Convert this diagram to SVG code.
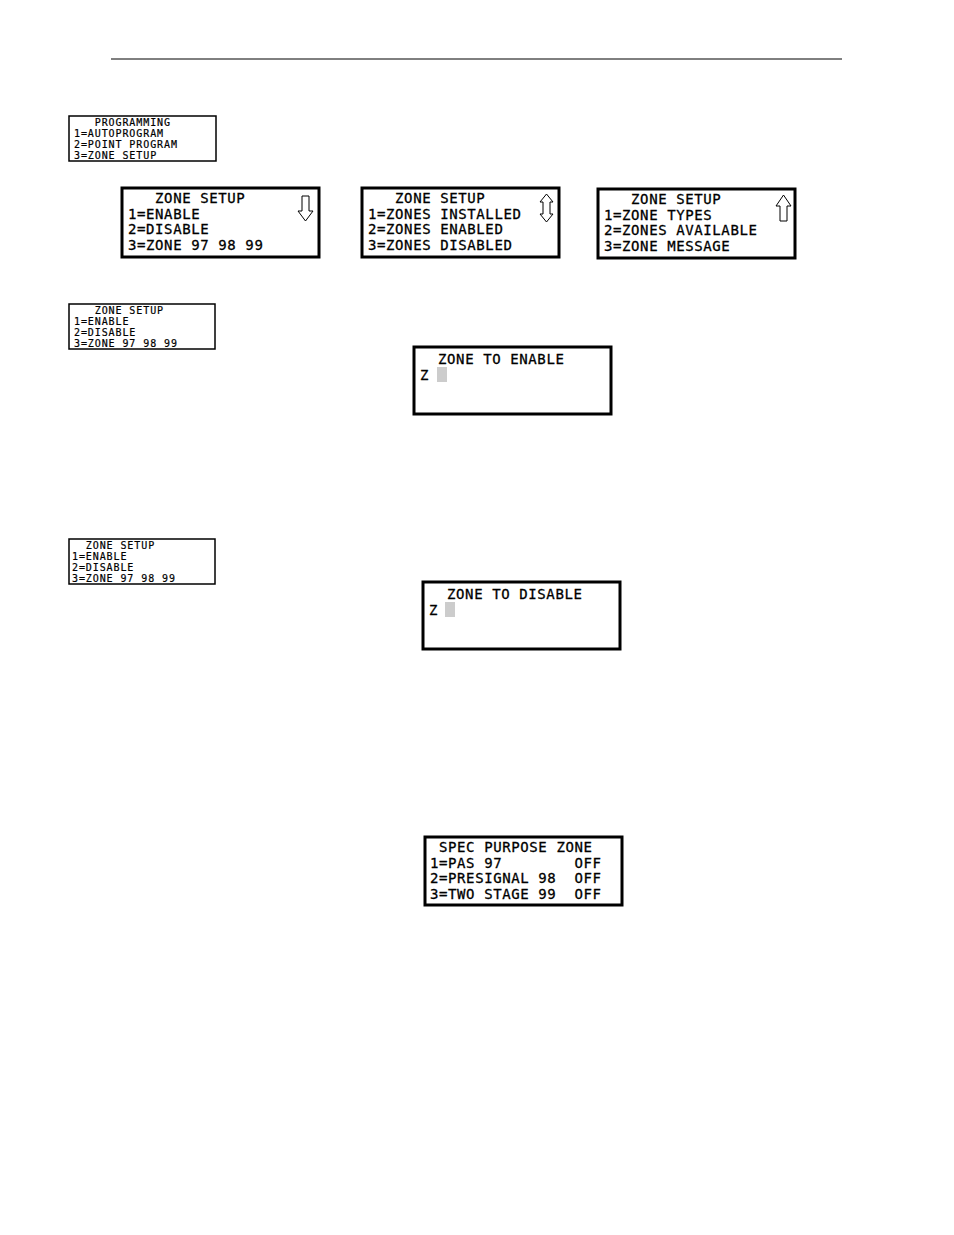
<svg xmlns="http://www.w3.org/2000/svg" width="954" height="1235" viewBox="0 0 954 1235">
<style>
.b{fill:#fff;stroke:#000;stroke-width:3}
.s{fill:#fff;stroke:#000;stroke-width:1.5}
.t{font-family:"DejaVu Sans Mono",monospace;font-size:14px;letter-spacing:0.6px;fill:#000;stroke:#000;stroke-width:0.3;white-space:pre}
.u{font-family:"DejaVu Sans Mono",monospace;font-size:10px;letter-spacing:0.9px;fill:#000;stroke:#000;stroke-width:0.2;white-space:pre}
.a{fill:#fff;stroke:#000;stroke-width:1}
</style>
<rect width="954" height="1235" fill="#fff"/>
<line x1="111" y1="59" x2="842" y2="59" stroke="#000" stroke-width="1"/>
<g id="prog"><rect class="s" x="69" y="116" width="147" height="45"/>
<text class="u" x="74" y="126">   PROGRAMMING</text><text class="u" x="74" y="137">1=AUTOPROGRAM</text><text class="u" x="74" y="148">2=POINT PROGRAM</text><text class="u" x="74" y="159">3=ZONE SETUP</text></g>
<g id="zs1"><rect class="b" x="122" y="188" width="197" height="69"/>
<text class="t" x="128" y="203">   ZONE SETUP</text><text class="t" x="128" y="219">1=ENABLE</text><text class="t" x="128" y="234">2=DISABLE</text><text class="t" x="128" y="250">3=ZONE 97 98 99</text>
<path class="a" d="M302,196 H309 V211 H313 L305.5,221 L298,211 H302 Z"/></g>
<g id="zs2"><rect class="b" x="362" y="188" width="197" height="69"/>
<text class="t" x="368" y="203">   ZONE SETUP</text><text class="t" x="368" y="219">1=ZONES INSTALLED</text><text class="t" x="368" y="234">2=ZONES ENABLED</text><text class="t" x="368" y="250">3=ZONES DISABLED</text>
<path class="a" d="M546.5,194 L553,202 H550 V214 H553 L546.5,222 L540,214 H543 V202 H540 Z"/></g>
<g id="zs3"><rect class="b" x="598" y="189" width="197" height="69"/>
<text class="t" x="604" y="204">   ZONE SETUP</text><text class="t" x="604" y="220">1=ZONE TYPES</text><text class="t" x="604" y="235">2=ZONES AVAILABLE</text><text class="t" x="604" y="251">3=ZONE MESSAGE</text>
<path class="a" d="M783.5,195 L791,206 H787 V221 H780 V206 H776 Z"/></g>
<g id="zs4"><rect class="s" x="69" y="304" width="146" height="45"/>
<text class="u" x="74" y="314">   ZONE SETUP</text><text class="u" x="74" y="325">1=ENABLE</text><text class="u" x="74" y="336">2=DISABLE</text><text class="u" x="74" y="347">3=ZONE 97 98 99</text></g>
<g id="en"><rect class="b" x="414" y="347" width="197" height="67"/>
<text class="t" x="420" y="364">  ZONE TO ENABLE</text><text class="t" x="420" y="380">Z</text>
<rect x="437" y="367" width="10" height="15" fill="#ccc"/></g>
<g id="zs5"><rect class="s" x="69" y="539" width="146" height="45"/>
<text class="u" x="72" y="549">  ZONE SETUP</text><text class="u" x="72" y="560">1=ENABLE</text><text class="u" x="72" y="571">2=DISABLE</text><text class="u" x="72" y="582">3=ZONE 97 98 99</text></g>
<g id="dis"><rect class="b" x="423" y="582" width="197" height="67"/>
<text class="t" x="429" y="599">  ZONE TO DISABLE</text><text class="t" x="429" y="615">Z</text>
<rect x="445" y="602" width="10" height="15" fill="#ccc"/></g>
<g id="spec"><rect class="b" x="425" y="837" width="197" height="68"/>
<text class="t" x="430" y="852"> SPEC PURPOSE ZONE</text><text class="t" x="430" y="868">1=PAS 97        OFF</text><text class="t" x="430" y="883">2=PRESIGNAL 98  OFF</text><text class="t" x="430" y="899">3=TWO STAGE 99  OFF</text></g>
<g id="connectors"/>
</svg>
